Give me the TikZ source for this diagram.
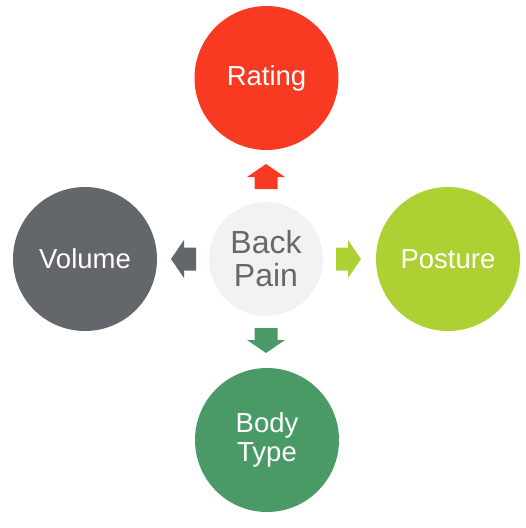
\documentclass[tikz,border=0pt]{standalone}
\usepackage{fontspec}
\setmainfont{Liberation Sans}
\definecolor{cRating}{HTML}{F93A22}
\definecolor{cVolume}{HTML}{63666A}
\definecolor{cPosture}{HTML}{ADD132}
\definecolor{cBody}{HTML}{4A9A68}
\definecolor{cCenter}{HTML}{F2F2F2}
\definecolor{cCtext}{HTML}{66686B}
\begin{document}
\begin{tikzpicture}[x=1pt,y=-1pt,
  outer/.style={circle,minimum size=144pt,inner sep=0pt,text=white,
    font=\fontsize{27.5}{29}\selectfont,align=center},
  centre/.style={circle,minimum size=114pt,inner sep=0pt,fill=cCenter,text=cCtext,
    font=\fontsize{32}{33}\selectfont,align=center}]
\useasboundingbox (0,0) rectangle (526,528);
\node[centre] (c) at (266,259) {Back\\Pain};
\node[outer,fill=cRating] (t) at (266.5,78) {Rating};
\node[outer,fill=cVolume] (l) at (85,259) {Volume};
\node[outer,fill=cPosture] (r) at (448,259) {Posture};
\node[outer,fill=cBody] (b) at (267,440) {Body\\Type};
% block arrows
\coordinate (au) at (266,176.5);
\coordinate (al) at (183.5,259);
\coordinate (ar) at (348.5,259);
\coordinate (ad) at (266,340.5);
\fill[cRating] ([shift={(0,-12.5)}]au) -- ++(19,13) -- ++(-7.5,0) -- ++(0,12) -- ++(-23,0) -- ++(0,-12) -- ++(-7.5,0) -- cycle;
\fill[cBody] ([shift={(0,12.5)}]ad) -- ++(19,-13) -- ++(-7.5,0) -- ++(0,-12) -- ++(-23,0) -- ++(0,12) -- ++(-7.5,0) -- cycle;
\fill[cVolume] ([shift={(-12.5,0)}]al) -- ++(13,19) -- ++(0,-7.5) -- ++(12,0) -- ++(0,-23) -- ++(-12,0) -- ++(0,-7.5) -- cycle;
\fill[cPosture] ([shift={(12.5,0)}]ar) -- ++(-13,19) -- ++(0,-7.5) -- ++(-12,0) -- ++(0,-23) -- ++(12,0) -- ++(0,-7.5) -- cycle;
\end{tikzpicture}
\end{document}
